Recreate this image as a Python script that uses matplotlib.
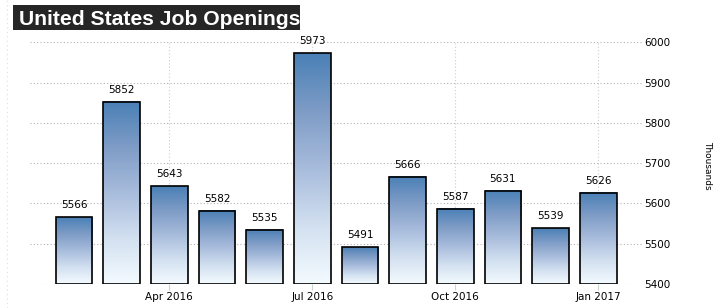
import numpy as np
import matplotlib
matplotlib.use("Agg")
import matplotlib.pyplot as plt
from matplotlib.colors import LinearSegmentedColormap
from matplotlib.lines import Line2D
from matplotlib.patches import Rectangle

months = ["Feb 2016", "Mar 2016", "Apr 2016", "May 2016", "Jun 2016", "Jul 2016",
          "Aug 2016", "Sep 2016", "Oct 2016", "Nov 2016", "Dec 2016", "Jan 2017"]
values = [5566, 5852, 5643, 5582, 5535, 5973, 5491, 5666, 5587, 5631, 5539, 5626]
tick_labels = ["Apr 2016", "Jul 2016", "Oct 2016", "Jan 2017"]
y_ticks = [5400, 5500, 5600, 5700, 5800, 5900, 6000]
title = "United States Job Openings"
unit = "Thousands"

W, H = 725, 308
fig = plt.figure(figsize=(W / 100, H / 100), dpi=100)
ax = fig.add_axes([30 / W, 1 - 284 / H, (643 - 30) / W, (284 - 42.3) / H])

cmap = LinearSegmentedColormap.from_list(
    "grad", ["#4a80b6", "#7e9cc6", "#a8bcdc", "#d2e0f0", "#f4fbff"])
grad = np.linspace(0, 1, 256).reshape(-1, 1)

x = np.arange(len(values))
width = 0.77
base = y_ticks[0]
for xi, v in zip(x, values):
    ax.imshow(grad, extent=[xi - width / 2, xi + width / 2, base, v],
              origin="upper", aspect="auto", cmap=cmap, zorder=2,
              interpolation="bilinear")
bars = ax.bar(x, np.array(values) - base, bottom=base, width=width,
              facecolor="none", edgecolor="black", linewidth=1.2, zorder=3)
for xi, v in zip(x, values):
    ax.annotate(str(v), (xi, v), xytext=(0, 5), textcoords="offset points",
                ha="center", va="bottom", fontsize=7.5, color="black")

ax.set_xlim(-0.924, 11.94)
ax.set_ylim(5400, 6000)

tick_pos = [months.index(t) for t in tick_labels]
ax.set_xticks(tick_pos)
ax.set_xticklabels(tick_labels, fontsize=7.5)
ax.tick_params(axis="x", length=4, color="#c8d8c8", pad=2)
ax.yaxis.tick_right()
ax.set_yticks(y_ticks)
ax.set_yticklabels([str(t) for t in y_ticks], fontsize=7.5)
ax.tick_params(axis="y", length=0, pad=1)

ax.grid(True, axis="y", linestyle=(0, (1, 2)), color="#b8b0b8", linewidth=0.8, zorder=0)
ax.grid(True, axis="x", linestyle=(0, (1, 2)), color="#c8d0c8", linewidth=0.8, zorder=0)
ax.set_axisbelow(True)
for s in ax.spines.values():
    s.set_visible(False)

fig.text(708 / W, 1 - 165 / H, unit, rotation=-90, ha="center", va="center",
         fontsize=6.5, color="black")

fig.add_artist(Rectangle((13 / W, 1 - 30 / H), (300 - 13) / W, 25 / H,
                         transform=fig.transFigure, facecolor="#262626",
                         edgecolor="none"))
fig.text(19 / W, 1 - 17.5 / H, title, ha="left", va="center_baseline",
         fontsize=15.2, fontweight="bold", color="white", family="Liberation Sans")

fig.add_artist(Line2D([7 / W, 7 / W], [0, 1], transform=fig.transFigure,
                      color="#cfe6cf", linestyle=(0, (1, 3)), linewidth=0.8))

fig.savefig("out.png", dpi=100)
